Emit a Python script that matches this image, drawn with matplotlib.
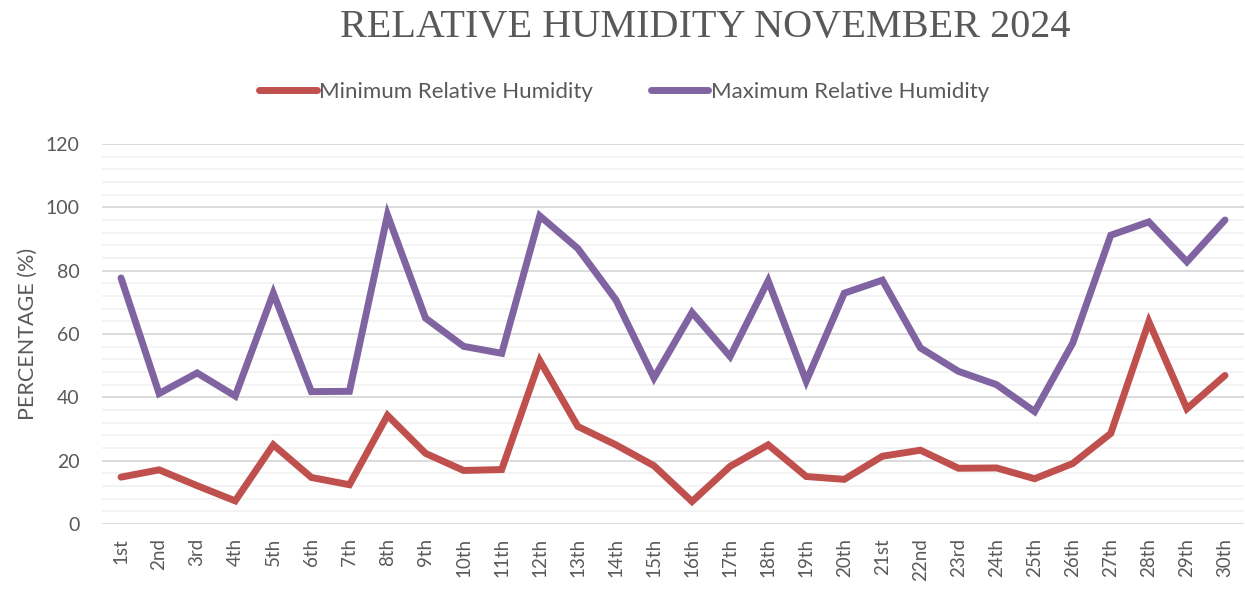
import matplotlib
matplotlib.use("Agg")
import matplotlib.pyplot as plt
import numpy as np

# November 2024 daily relative humidity (%)
days = ["1st", "2nd", "3rd", "4th", "5th", "6th", "7th", "8th", "9th", "10th",
        "11th", "12th", "13th", "14th", "15th", "16th", "17th", "18th", "19th", "20th",
        "21st", "22nd", "23rd", "24th", "25th", "26th", "27th", "28th", "29th", "30th"]
rh_min = [14.8, 17.1, 12.1, 7.3, 25.0, 14.7, 12.4, 34.3, 22.3, 16.9,
          17.2, 51.6, 30.8, 25.0, 18.4, 7.1, 18.2, 25.0, 15.0, 14.1,
          21.4, 23.3, 17.6, 17.7, 14.3, 19.1, 28.6, 63.9, 36.4, 46.9]
rh_max = [77.7, 41.2, 47.7, 40.4, 72.9, 41.8, 41.9, 97.6, 65.0, 56.1,
          53.9, 97.3, 87.0, 70.8, 46.1, 66.8, 52.9, 76.8, 45.1, 72.9,
          77.0, 55.6, 48.2, 44.0, 35.5, 57.1, 91.2, 95.4, 82.8, 96.0]

GREY = "#595959"
W, H = 1245, 590

fig = plt.figure(figsize=(W / 100, H / 100), dpi=100)
ax = fig.add_axes([102 / W, (H - 524) / H, (1244 - 102) / W, (524 - 144) / H])

x = np.arange(len(days))
ax.plot(x, rh_min, color="#C0504D", lw=5, solid_capstyle="round",
        solid_joinstyle="miter", label="Minimum Relative Humidity")
ax.plot(x, rh_max, color="#8064A2", lw=5, solid_capstyle="round",
        solid_joinstyle="miter", label="Maximum Relative Humidity")

ax.set_xlim(-0.5, len(days) - 0.5)
ax.set_ylim(0, 120)
ax.set_yticks(np.arange(0, 121, 20))
ax.set_yticks(np.arange(0, 121, 4), minor=True)
ax.grid(which="major", axis="y", color="#D9D9D9", lw=1.3)
ax.grid(which="minor", axis="y", color="#F2F2F2", lw=1.3)
ax.set_axisbelow(True)
for s in ax.spines.values():
    s.set_visible(False)

ax.set_xticks(x)
ax.set_xticklabels(days, rotation=90, fontsize=13.5, color=GREY, family="Lato")
ax.tick_params(axis="both", which="both", length=0)
ax.tick_params(axis="x", pad=10)
ax.tick_params(axis="y", pad=16)
for t in ax.get_yticklabels():
    t.set_fontsize(14)
    t.set_color(GREY)
    t.set_family("Lato")

ax.set_ylabel("PERCENTAGE (%)", fontsize=15.5, color=GREY, family="Lato", labelpad=6)

fig.text(705 / W, 1 - 28 / H, "RELATIVE HUMIDITY NOVEMBER 2024", ha="center", va="center",
         fontsize=29, color=GREY, family="Liberation Serif")

fig.legend(loc="center", bbox_to_anchor=(624 / W, 1 - 92 / H), ncol=2, frameon=False,
           prop={"family": "Lato", "size": 16}, labelcolor=GREY,
           handlelength=2.6, handletextpad=0.1, columnspacing=2.6)

fig.savefig("out.png", dpi=100)
